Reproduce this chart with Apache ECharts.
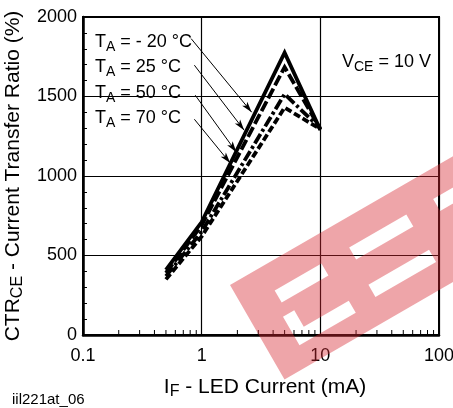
<!DOCTYPE html>
<html>
<head>
    <meta charset="utf-8">
    <title>CTR vs LED current</title>
    <script src="https://cdn.jsdelivr.net/npm/echarts@6/dist/echarts.min.js"></script>
    <style>
        html, body { margin: 0; padding: 0; background: #fff; }
        #main { width: 453px; height: 408px; }
    </style>
</head>
<body>
    <div id="main"></div>
    <script type="text/javascript">
        var FONT = '"Liberation Sans", Arial, Helvetica, sans-serif';

        // forward current (mA)
        var ledCurrent = [0.5, 1, 5, 10];
        // CTR (%) per ambient temperature
        var ctrMinus20 = [410, 710, 1775, 1290];
        var ctr25 = [390, 690, 1685, 1295];
        var ctr50 = [370, 650, 1515, 1300];
        var ctr70 = [350, 620, 1430, 1295];

        var xMinorTicks = [0.2, 0.3, 0.4, 0.5, 0.6, 0.7, 0.8, 0.9,
                           2, 3, 4, 5, 6, 7, 8, 9,
                           20, 30, 40, 50, 60, 70, 80, 90];

        // leader arrows: [label end, curve end] in data units
        var arrowMinus20 = [[0.815, 1864], [2.64, 1401]];
        var arrow25 = [[0.868, 1697], [2.28, 1288]];
        var arrow50 = [[0.883, 1508], [1.96, 1150]];
        var arrow70 = [[0.868, 1357], [1.74, 1081]];

        var chartDom = document.getElementById('main');
        var myChart = echarts.init(chartDom, null, {renderer: 'canvas'});

        function pairs(ys) {
            return ledCurrent.map(function (x, i) { return [x, ys[i]]; });
        }

        function arrow(a) {
            return {
                silent: true,
                symbol: ['none', 'arrow'],
                symbolSize: [5, 11],
                label: {show: false},
                lineStyle: {color: '#000', width: 1, type: 'solid'},
                emphasis: {disabled: true},
                animation: false,
                data: [[{coord: a[0]}, {coord: a[1]}]]
            };
        }

        function curve(name, ys, dash, a) {
            return {
                name: name,
                type: 'line',
                data: pairs(ys),
                symbol: 'none',
                smooth: false,
                lineStyle: {color: '#000', width: 3.8, type: dash, cap: 'butt', join: 'miter'},
                emphasis: {disabled: true},
                markLine: arrow(a),
                z: 3
            };
        }

        var subRich = {
            a: {fontSize: 18, fontFamily: FONT, color: '#000', lineHeight: 24},
            s: {fontSize: 14, fontFamily: FONT, color: '#000', lineHeight: 12, verticalAlign: 'bottom'}
        };

        var nameRich = {
            a: {fontSize: 21, fontFamily: FONT, color: '#000', lineHeight: 26},
            s: {fontSize: 16, fontFamily: FONT, color: '#000', lineHeight: 13, verticalAlign: 'bottom'}
        };

        function tempLabel(t, y) {
            return {
                type: 'text',
                x: 95,
                y: y,
                silent: true,
                style: {
                    text: '{a|T}{s|A}{a| = ' + t + ' °C}',
                    rich: subRich,
                    verticalAlign: 'middle',
                    align: 'left'
                },
                z: 50
            };
        }

        // watermark band with cut-outs (local frame, rotated 30deg)
        var wmPath = 'M0 0 L420 0 L420 109 L0 109 Z' +
            ' M36 27 L36 41 L90 41 L90 27 Z' +
            ' M30 54 L30 87 L95 87 L95 73 L43 73 L43 54 Z' +
            ' M122 27 L122 41 L188 41 L188 27 Z' +
            ' M120 69 L120 83 L190 83 L190 69 Z' +
            ' M219 27 L219 41 L285 41 L285 27 Z' +
            ' M219 69 L219 83 L285 83 L285 69 Z';

        var option = {
            animation: false,
            backgroundColor: '#fff',
            grid: {
                left: 83, right: 14, top: 17, bottom: 73,
                containLabel: false,
                outerBoundsMode: 'none',
                show: true,
                borderColor: '#000',
                borderWidth: 2
            },
            xAxis: {
                type: 'log',
                logBase: 10,
                min: 0.1,
                max: 100,
                name: '{a|I}{s|F}{a| - LED Current (mA)}',
                nameLocation: 'middle',
                nameGap: 39,
                nameTextStyle: {
                    padding: [0, 0, 0, 8],
                    rich: nameRich
                },
                axisLine: {show: true, lineStyle: {color: '#000', width: 2.5}},
                axisTick: {show: true, inside: true, length: 6, lineStyle: {color: '#000', width: 1}},
                minorTick: {show: false},
                axisLabel: {
                    color: '#000', fontSize: 18, fontFamily: FONT, margin: 12,
                    formatter: function (v) { return String(+(+v).toPrecision(3)); }
                },
                splitLine: {show: true, lineStyle: {color: '#000', width: 1.2}}
            },
            yAxis: {
                type: 'value',
                min: 0,
                max: 2000,
                interval: 500,
                name: '{a|CTR}{s|CE}{a| - Current Transfer Ratio (%)}',
                nameLocation: 'middle',
                nameGap: 41,
                nameTextStyle: {
                    rich: nameRich
                },
                axisLine: {show: true, lineStyle: {color: '#000', width: 2.5}},
                axisTick: {show: true, inside: true, length: 5, lineStyle: {color: '#000', width: 1}},
                minorTick: {show: true, splitNumber: 5, length: 4, lineStyle: {color: '#000', width: 1}},
                axisLabel: {
                    color: '#000', fontSize: 18, fontFamily: FONT, margin: 6,
                    formatter: function (v) { return String(v); }
                },
                splitLine: {show: true, lineStyle: {color: '#000', width: 1.2}}
            },
            series: [
                curve('-20', ctrMinus20, 'solid', arrowMinus20),
                curve('25', ctr25, [11, 3.5], arrow25),
                curve('50', ctr50, [11, 3, 3, 3], arrow50),
                curve('70', ctr70, [7, 3], arrow70),
                {
                    // log minor ticks along the bottom axis
                    type: 'custom',
                    silent: true,
                    clip: false,
                    data: xMinorTicks.map(function (v) { return [v, 0]; }),
                    renderItem: function (params, api) {
                        var p = api.coord([api.value(0), 0]);
                        return {
                            type: 'line',
                            shape: {x1: p[0], y1: p[1], x2: p[0], y2: p[1] - 5},
                            style: {stroke: '#000', lineWidth: 1}
                        };
                    },
                    z: 4
                },
                {
                    // watermark
                    type: 'custom',
                    silent: true,
                    clip: false,
                    data: [[0, 0]],
                    renderItem: function () {
                        return {
                            type: 'path',
                            x: 230,
                            y: 285,
                            rotation: Math.PI / 6,
                            shape: {pathData: wmPath, x: 0, y: 0, width: 420, height: 109},
                            style: {fill: 'rgba(215, 40, 50, 0.42)'}
                        };
                    },
                    z: 100
                }
            ],
            graphic: [
                tempLabel('- 20', 42),
                tempLabel('25', 67.5),
                tempLabel('50', 93),
                tempLabel('70', 118),
                {
                    type: 'text',
                    x: 342,
                    y: 62,
                    silent: true,
                    style: {
                        text: '{a|V}{s|CE}{a| = 10 V}',
                        rich: subRich,
                        verticalAlign: 'middle',
                        align: 'left'
                    },
                    z: 50
                },
                {
                    type: 'text',
                    x: 12,
                    y: 400,
                    silent: true,
                    style: {
                        text: 'iil221at_06',
                        font: '15px ' + FONT,
                        fill: '#000',
                        verticalAlign: 'middle',
                        align: 'left'
                    },
                    z: 50
                }
            ]
        };
        myChart.setOption(option);
    </script>
</body>
</html>
